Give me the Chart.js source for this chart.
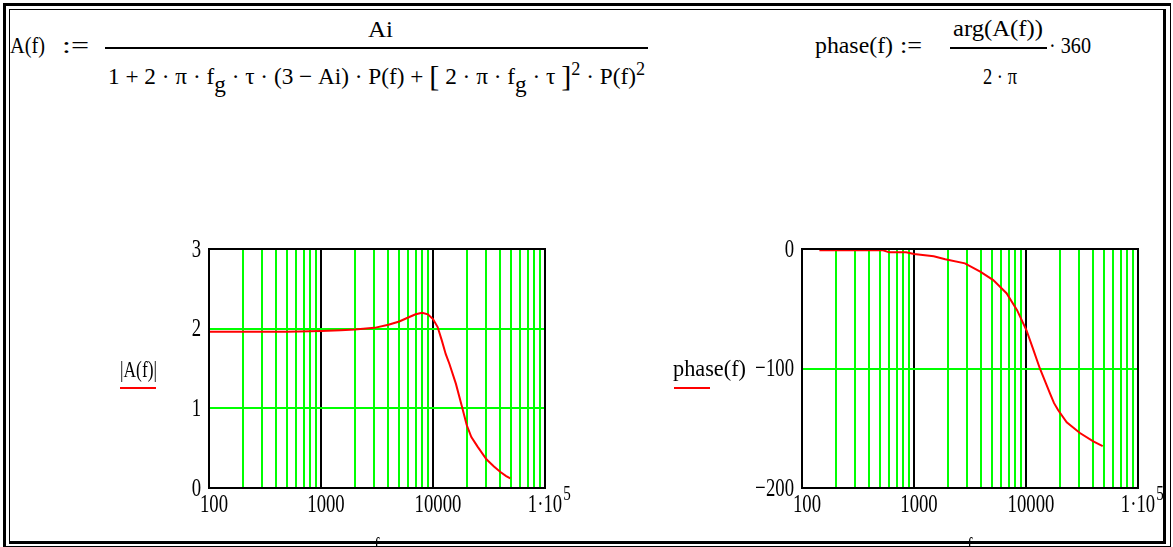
<!DOCTYPE html>
<html>
<head>
<meta charset="utf-8">
<script src="https://cdn.jsdelivr.net/npm/chart.js@4.4.1/dist/chart.umd.min.js"></script>
<style>
  body { margin: 0; background: #fff; }
  #page { position: relative; width: 1173px; height: 547px; overflow: hidden; background: #fff; }
  canvas { position: absolute; }
  .t { position: absolute; font-family: "Liberation Serif", serif; font-size: 23px; line-height: 23px;
       white-space: nowrap; transform-origin: 0 0; color: #000; z-index: 2; }
  .sub { position: relative; top: 8px; }
  .sup { position: relative; top: -9px; font-size: 18px; }
  .big { font-size: 30px; position: relative; top: 2px; }
  .bar { position: absolute; height: 2px; background: #000; z-index: 2; }
  .key { position: absolute; height: 2px; background: #ff0000; z-index: 2; }
  .frame { position: absolute; box-sizing: border-box; border-style: solid; border-color: #000; z-index: 3; }
</style>
</head>
<body>
<div id="page">
  <!-- formulas -->
  <div class="t" data-w="35" style="left:10px; top:34px">A(f)</div>
  <div class="t" data-w="27" style="left:62px; top:34px">:=</div>
  <div class="t" data-w="25" style="left:368px; top:18px">Ai</div>
  <div class="bar" style="left:105px; top:47px; width:543px"></div>
  <div class="t" data-w="537" style="left:108px; top:62px">1 + 2 · π · f<span class="sub">g</span> · τ · (3 − Ai) · P(f) + <span class="big">[</span> 2 · π · f<span class="sub">g</span> · τ <span class="big">]</span><span class="sup">2</span> · P(f)<span class="sup">2</span></div>

  <div class="t" data-w="78" style="left:815px; top:34px">phase(f)</div>
  <div class="t" data-w="22" style="left:900px; top:34px">:=</div>
  <div class="t" data-w="90" style="left:953px; top:17px">arg(A(f))</div>
  <div class="bar" style="left:950px; top:47px; width:97px"></div>
  <div class="t" data-w="34" style="left:983px; top:65px">2 · π</div>
  <div class="t" data-w="42" style="left:1049px; top:34px">· 360</div>

  <!-- trace labels -->
  <div class="t" data-w="37" style="left:120px; top:358px">|A(f)|</div>
  <div class="key" style="left:120px; top:387px; width:36px"></div>
  <div class="t" data-w="73" style="left:673px; top:357px">phase(f)</div>
  <div class="key" style="left:674px; top:387px; width:36px"></div>

  <canvas id="ampChart" width="490" height="317" style="left:100px; top:230px"></canvas>
  <canvas id="phaseChart" width="513" height="317" style="left:660px; top:230px"></canvas>

  <div class="frame" style="left:3px; top:3px; width:1168px; height:544px; border-width:3px 1px 1px 3px"></div>
  <div class="frame" style="left:9px; top:9px; width:1157px; height:535px; border-width:1px 3px 3px 1px"></div>
</div>

<script>
// log-axis grid: decades + multiples inside each decade
const xDecades = [100, 1000, 10000, 100000];
const xMinorSteps = [2, 3, 4, 5, 6, 7, 8, 9];
const xLabels = ['100', '1000', '10000', '1·10'];

// |A(f)| trace
const ampFreq = [100, 200, 500, 1000, 1500, 2000, 3000, 4000, 5000, 6000, 7000, 8000, 9000, 10000,
                 11000, 12000, 13000, 14000, 16000, 18000, 20000, 22000, 25000, 30000, 35000, 40000, 45000, 49000];
const ampValues = [1.96, 1.96, 1.96, 1.97, 1.98, 1.99, 2.01, 2.05, 2.09, 2.14, 2.18, 2.20, 2.18, 2.12,
                   2.02, 1.85, 1.68, 1.56, 1.31, 1.04, 0.79, 0.64, 0.52, 0.36, 0.27, 0.20, 0.15, 0.12];
const ampTicks = [0, 1, 2, 3];
const ampTickLabels = ['0', '1', '2', '3'];

// phase(f) trace
const phaseFreq = [143, 300, 530, 600, 850, 1000, 1500, 1900, 2850, 3900, 5100, 6700, 8300, 10100,
                   11600, 13300, 15000, 16400, 17800, 19400, 23100, 30300, 39900, 48400];
const phaseValues = [-1, -1, -1, -2.8, -2.8, -4.2, -6, -8.6, -12, -19, -26, -37, -51, -68,
                     -84, -100, -112, -121, -129, -135, -145, -154, -161, -165];
const phaseTicks = [0, -100, -200];
const phaseTickLabels = ['0', '\u2212100', '\u2212200'];

// squeeze formula text to the widths in the picture
document.querySelectorAll('.t[data-w]').forEach(el => {
  const w = el.getBoundingClientRect().width;
  el.style.transform = 'scaleX(' + (+el.dataset.w / w) + ')';
});

const xGrid = xDecades.flatMap(d => d < 100000 ? [d, ...xMinorSteps.map(m => m * d)] : [d]);
const isDecade = v => Math.abs(Math.log10(v) - Math.round(Math.log10(v))) < 1e-9;

function narrowText(ctx, text, x, y, align, size) {
  ctx.save();
  ctx.font = size + 'px "Liberation Serif"';
  ctx.textBaseline = 'middle';
  ctx.textAlign = align;
  ctx.translate(x, y);
  ctx.scale(0.72, 1);
  ctx.fillText(text, 0, 0);
  const w = ctx.measureText(text).width * 0.72;
  ctx.restore();
  return w;
}

const mathcadAxes = {
  id: 'mathcadAxes',
  afterDraw(chart, args, opts) {
    const { ctx, chartArea: a, scales: { x, y } } = chart;
    ctx.save();
    ctx.strokeStyle = '#000'; ctx.lineWidth = 2;
    ctx.strokeRect(a.left, a.top, a.right - a.left, a.bottom - a.top);
    ctx.fillStyle = '#000';
    opts.yTicks.forEach((v, i) => narrowText(ctx, opts.yText[i], a.left - 8, y.getPixelForValue(v) + 1, 'right', 26));
    xDecades.forEach((v, i) => {
      const px = x.getPixelForValue(v);
      if (i < xDecades.length - 1) {
        narrowText(ctx, xLabels[i], px + 5, a.bottom + 17, 'center', 26);
      } else {
        const w = narrowText(ctx, xLabels[i], px, a.bottom + 17, 'center', 26);
        narrowText(ctx, '5', px + w / 2 + 1, a.bottom + 6, 'left', 21);
      }
    });
    narrowText(ctx, 'f', (a.left + a.right) / 2, a.bottom + 58, 'center', 22);
    ctx.restore();
  }
};

function makePlot(id, freq, values, yMin, yMax, step, yTicks, yText, pad) {
  return new Chart(document.getElementById(id), {
    type: 'line',
    data: { datasets: [{
      data: freq.map((f, i) => ({ x: f, y: values[i] })),
      borderColor: '#ff0000', borderWidth: 2, pointRadius: 0, tension: 0, fill: false
    }]},
    options: {
      responsive: false, animation: false, devicePixelRatio: 1,
      layout: { padding: pad },
      plugins: { legend: { display: false }, tooltip: { enabled: false },
                 mathcadAxes: { yTicks, yText } },
      scales: {
        x: { type: 'logarithmic', min: 100, max: 100000,
             afterBuildTicks: s => { s.ticks = xGrid.map(v => ({ value: v })); },
             ticks: { display: false },
             grid: { color: c => isDecade(c.tick.value) ? '#000' : '#00ff00', lineWidth: 2, drawTicks: false },
             border: { display: false } },
        y: { min: yMin, max: yMax, ticks: { display: false, stepSize: step },
             grid: { color: '#00ff00', lineWidth: 2, drawTicks: false },
             border: { display: false } }
      }
    },
    plugins: [mathcadAxes]
  });
}

makePlot('ampChart', ampFreq, ampValues, 0, 3, 1, ampTicks, ampTickLabels,
         { left: 109, top: 19, right: 45, bottom: 59 });
makePlot('phaseChart', phaseFreq, phaseValues, -200, 0, 100, phaseTicks, phaseTickLabels,
         { left: 142, top: 19, right: 35, bottom: 59 });
</script>
</body>
</html>
